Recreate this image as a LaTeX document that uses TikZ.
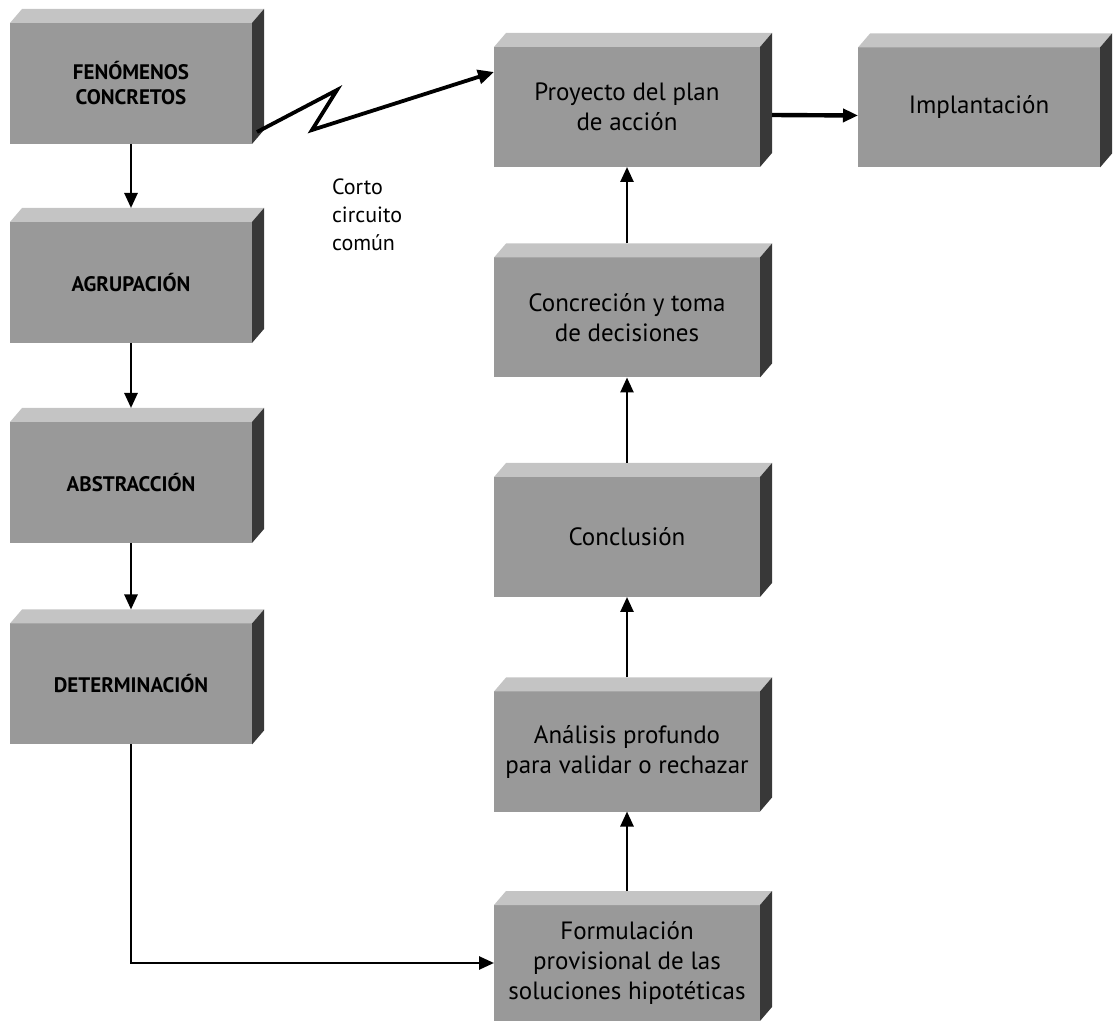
\documentclass[tikz,border=0pt]{standalone}
\usepackage{fontspec}
\setmainfont{PT Sans}
\usetikzlibrary{arrows.meta}
\definecolor{frente}{gray}{0.6}
\definecolor{arriba}{gray}{0.77}
\definecolor{lado}{gray}{0.22}
\tikzset{
  caja/.style={fill=frente, inner sep=0pt, outer sep=0pt, align=center,
    font=\fontsize{12.5}{15}\selectfont},
  izq/.style={caja, minimum width=121pt, minimum height=60.5pt,
    font=\bfseries\fontsize{10.5}{12.5}\selectfont},
  der/.style={caja, minimum width=133pt, minimum height=60pt},
  flecha/.style={line width=1.3pt, -{Triangle[length=7.5pt,width=6.5pt]}}
}
\begin{document}
\begin{tikzpicture}[x=0.5pt,y=-0.5pt]
\useasboundingbox (0,0) rectangle (1115,1021);

% left column
\node[izq] (fen) at (131,83.5) {FENÓMENOS\\CONCRETOS};
\node[izq] (agr) at (131,282.5) {AGRUPACIÓN};
\node[izq] (abs) at (131,482.5) {ABSTRACCIÓN};
\node[izq] (det) at (131,684) {DETERMINACIÓN};

% right column
\node[der] (pro) at (627,107) {Proyecto del plan\\de acción};
\node[der, minimum width=121pt] (imp) at (979,107.5) {Implantación};
\node[der] (con) at (627,317.5) {Concreción y toma\\de decisiones};
\node[der] (clu) at (627,537) {Conclusión};
\node[der] (ana) at (627,751.5) {Análisis profundo\\para validar o rechazar};
\node[der, minimum height=58pt] (for) at (627,963) {Formulación\\provisional de las\\soluciones hipotéticas};

% top and side faces
\foreach \n in {fen,agr,abs,det,pro,imp,con,clu,ana,for}{
  \fill[arriba] (\n.north west) -- ++(12,-14) -- ([shift={(12,-14)}]\n.north east) -- (\n.north east) -- cycle;
  \fill[lado] (\n.north east) -- ++(12,-14) -- ([shift={(12,-14)}]\n.south east) -- (\n.south east) -- cycle;
}

\node[anchor=west, align=left, font=\fontsize{11}{14}\selectfont] (cc) at (325,215) {Corto\\circuito\\común};

% short circuit
\coordinate (z1) at (337,90);
\coordinate (z2) at (312,130);
\draw[line width=1.9pt, -{Triangle[length=8pt,width=7pt]}] ([shift={(5,-12)}]fen.south east) -- (z1) -- (z2) -- ([yshift=17.5pt]pro.west);

\draw[flecha] (fen.south) -- ([yshift=7pt]agr.north);
\draw[flecha] (agr.south) -- ([yshift=7pt]abs.north);
\draw[flecha] (abs.south) -- ([yshift=7pt]det.north);
\draw[flecha] (det.south) |- (for.west);

\draw[flecha] ([yshift=7pt]for.north) -- (ana.south);
\draw[flecha] ([yshift=7pt]ana.north) -- (clu.south);
\draw[flecha] ([yshift=7pt]clu.north) -- (con.south);
\draw[flecha] ([yshift=7pt]con.north) -- (pro.south);
\draw[flecha, line width=2.2pt] ([xshift=6pt,yshift=-4pt]pro.east) -- ([yshift=-4pt]imp.west);
\end{tikzpicture}
\end{document}
